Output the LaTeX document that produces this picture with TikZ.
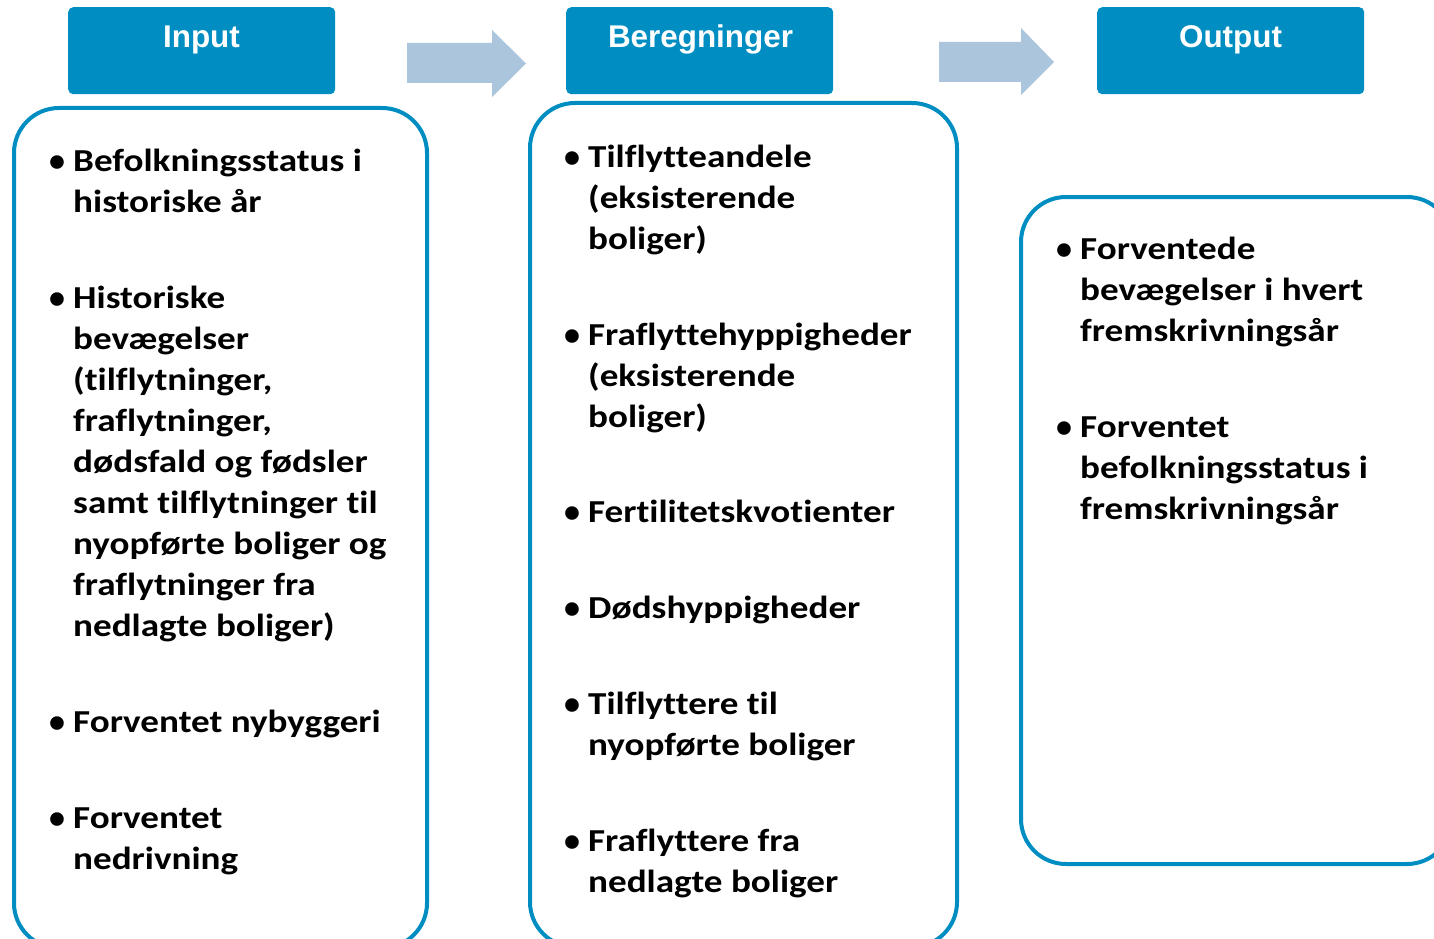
\documentclass[tikz,border=0pt]{standalone}
\usepackage{fontspec}
\setmainfont{Carlito}[FakeStretch=1.16, Ligatures=NoCommon]
\newfontfamily\bulfont{Carlito}
\newfontfamily\hdrfont{Liberation Sans}
\definecolor{hdrblue}{RGB}{0,142,194}
\definecolor{arrowblue}{RGB}{171,198,220}
\begin{document}
\begin{tikzpicture}[x=1pt,y=-1pt,
  header/.style={fill=hdrblue, rounded corners=5pt, minimum width=267pt, minimum height=87pt, anchor=north west, inner sep=0pt},
  hdrtext/.style={text=white, font=\hdrfont\bfseries\fontsize{31.4}{36}\selectfont, anchor=base, inner sep=0pt},
  panel/.style={draw=hdrblue, line width=4pt, rounded corners=45pt},
  bul/.style={font=\bulfont\bfseries\fontsize{32}{41}\selectfont, anchor=base west, inner sep=0pt},
  item/.style={font=\bfseries\fontsize{32}{41}\selectfont, anchor=base west, inner sep=0pt},
  blockarrow/.style={fill=arrowblue}]
\useasboundingbox (0,0) rectangle (1434,939);
\clip (0,0) rectangle (1434,939);
% headers
\node[header] (hin)  at (68,7) {};
\node[header] (hcal) at (566,7) {};
\node[header] (hout) at (1097,7) {};
\node[hdrtext] (tin)  at (201.5,48) {Input};
\node[hdrtext] (tcal) at (700.5,48) {Beregninger};
\node[hdrtext] (tout) at (1230.5,48) {Output};
% block arrows
\fill[blockarrow] (407,43) -- (492,43) -- (492,30) -- (526,63.5) -- (492,97) -- (492,83) -- (407,83) -- cycle;
\fill[blockarrow] (939,42) -- (1021,42) -- (1021,28) -- (1054,62) -- (1021,95) -- (1021,82) -- (939,82) -- cycle;
% panels
\draw[panel] (14,108) rectangle (427,948);
\draw[panel] (530,103) rectangle (957,947);
\draw[panel] (1021,197) rectangle (1452,864);
% input items
\node[bul] (b1) at (49,171) {•};
\node[item] (i1) at (73,171) {\parbox[t]{380pt}{Befolkningsstatus i\\historiske år}};
\node[bul] (b2) at (49,308) {•};
\node[item] (i2) at (73,308) {\parbox[t]{380pt}{Historiske\\bevægelser\\(tilflytninger,\\fraflytninger,\\dødsfald og fødsler\\samt tilflytninger til\\nyopførte boliger og\\fraflytninger fra\\nedlagte boliger)}};
\node[bul] (b3) at (49,732) {•};
\node[item] (i3) at (73,732) {\parbox[t]{380pt}{Forventet nybyggeri}};
\node[bul] (b4) at (49,828) {•};
\node[item] (i4) at (73,828) {\parbox[t]{380pt}{Forventet\\nedrivning}};
% calculation items
\node[bul] (c1b) at (564,167) {•};
\node[item] (c1) at (588,167) {\parbox[t]{380pt}{Tilflytteandele\\(eksisterende\\boliger)}};
\node[bul] (c2b) at (564,345) {•};
\node[item] (c2) at (588,345) {\parbox[t]{380pt}{Fraflyttehyppigheder\\(eksisterende\\boliger)}};
\node[bul] (c3b) at (564,522) {•};
\node[item] (c3) at (588,522) {\parbox[t]{380pt}{Fertilitetskvotienter}};
\node[bul] (c4b) at (564,618) {•};
\node[item] (c4) at (588,618) {\parbox[t]{380pt}{Dødshyppigheder}};
\node[bul] (c5b) at (564,714) {•};
\node[item] (c5) at (588,714) {\parbox[t]{380pt}{Tilflyttere til\\nyopførte boliger}};
\node[bul] (c6b) at (564,851) {•};
\node[item] (c6) at (588,851) {\parbox[t]{380pt}{Fraflyttere fra\\nedlagte boliger}};
% output items
\node[bul] (o1b) at (1056,259) {•};
\node[item] (o1) at (1080,259) {\parbox[t]{380pt}{Forventede\\bevægelser i hvert\\fremskrivningsår}};
\node[bul] (o2b) at (1056,437) {•};
\node[item] (o2) at (1080,437) {\parbox[t]{380pt}{Forventet\\befolkningsstatus i\\fremskrivningsår}};
\end{tikzpicture}
\end{document}
